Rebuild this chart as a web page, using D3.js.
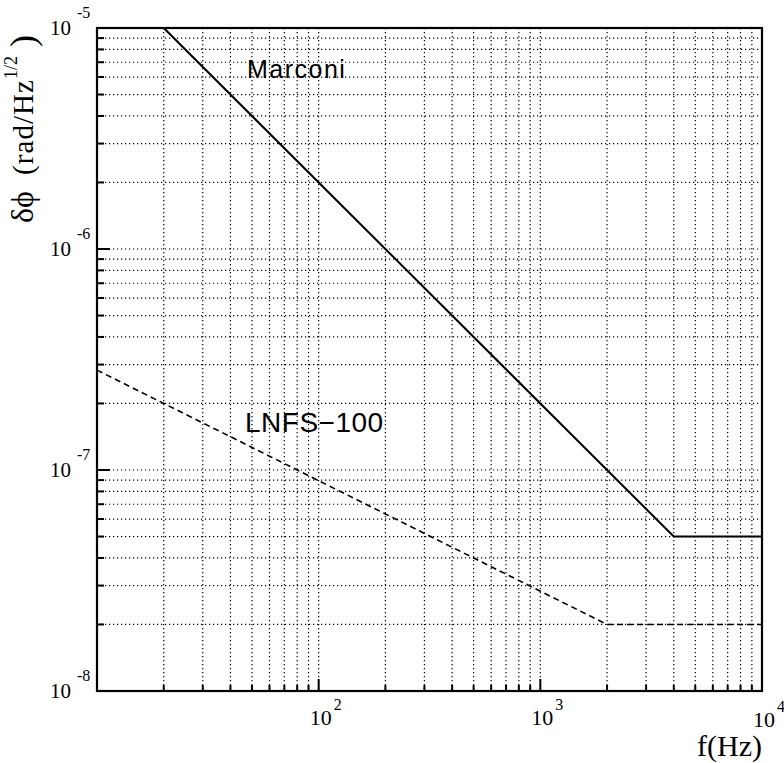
<!DOCTYPE html>
<html><head><meta charset="utf-8">
<script src="https://cdn.jsdelivr.net/npm/d3@7"></script>
<style>body{margin:0;background:#fff}svg{display:block}</style>
</head><body>
<svg id="c" width="784" height="763"></svg>
<script>
// ---- data ----
const xDomain = [10, 10000];
const yDomain = [1e-8, 1e-5];
const xMajorTicks = [100, 1000, 10000];
const xMajorExp = ["2", "3", "4"];
const yMajorTicks = [1e-8, 1e-7, 1e-6, 1e-5];
const yMajorExp = ["-8", "-7", "-6", "-5"];
const marconiF = [20, 4000, 10000];
const marconiV = [1e-5, 5e-8, 5e-8];
const lnfsF = [10, 2000, 10000];
const lnfsV = [2.83e-7, 2e-8, 2e-8];
const seriesNames = ["Marconi", "LNFS\u2212100"];
const xTitle = "f(Hz)";
const yTitleParts = ["\u03b4\u03d5", "(rad/Hz", "1/2", ")"];

// ---- layout ----
const L = 97, R = 762, T = 28, B = 691;
const svg = d3.select("#c");
const x = d3.scaleLog().domain(xDomain).range([L, R]);
const y = d3.scaleLog().domain(yDomain).range([B, T]);

function logGrid(dom) {
  const out = [];
  for (let e = Math.floor(Math.log10(dom[0])); e <= Math.ceil(Math.log10(dom[1])); e++) {
    for (let m = 1; m <= 9; m++) {
      const v = m * Math.pow(10, e);
      if (v > dom[0] * 1.0001 && v < dom[1] * 0.9999) out.push(v);
    }
  }
  return out;
}
const xGrid = logGrid(xDomain), yGrid = logGrid(yDomain);
const isMajor = v => Math.abs(Math.log10(v) - Math.round(Math.log10(v))) < 1e-6;

const g = svg.append("g");
g.selectAll(".vg").data(xGrid).enter().append("line")
  .attr("x1", d => x(d)).attr("x2", d => x(d)).attr("y1", T).attr("y2", B)
  .attr("stroke", "#000").attr("stroke-width", 1.2).attr("stroke-dasharray", "1.2 2.8");
g.selectAll(".hg").data(yGrid).enter().append("line")
  .attr("y1", d => y(d)).attr("y2", d => y(d)).attr("x1", L).attr("x2", R)
  .attr("stroke", "#000").attr("stroke-width", 1.2).attr("stroke-dasharray", "1.2 2.8");

// ticks (inward)
g.selectAll(".yt").data(yGrid).enter().append("line")
  .attr("x1", L).attr("x2", d => L + (isMajor(d) ? 13 : 7))
  .attr("y1", d => y(d)).attr("y2", d => y(d))
  .attr("stroke", "#000").attr("stroke-width", 2);
g.selectAll(".xt").data(xGrid).enter().append("line")
  .attr("y1", B).attr("y2", d => B - (isMajor(d) ? 12 : 6))
  .attr("x1", d => x(d)).attr("x2", d => x(d))
  .attr("stroke", "#000").attr("stroke-width", 2);

// curves
const line = d3.line().x(d => x(d[0])).y(d => y(d[1]));
svg.append("path").datum(marconiF.map((f, i) => [f, marconiV[i]]))
  .attr("d", line).attr("fill", "none").attr("stroke", "#000").attr("stroke-width", 2);
svg.append("path").datum(lnfsF.map((f, i) => [f, lnfsV[i]]))
  .attr("d", line).attr("fill", "none").attr("stroke", "#000").attr("stroke-width", 1.6)
  .attr("stroke-dasharray", "6 4");

// frame
svg.append("rect").attr("x", L).attr("y", T).attr("width", R - L).attr("height", B - T)
  .attr("fill", "none").attr("stroke", "#000").attr("stroke-width", 2.2);

// y tick labels
const serif = "'Liberation Serif','Times New Roman',serif";
yMajorTicks.forEach((v, i) => {
  svg.append("text").attr("x", 71).attr("y", y(v) + 7).attr("text-anchor", "end")
    .attr("font-family", serif).attr("font-size", 21).text("10");
  svg.append("text").attr("x", 77).attr("y", y(v) - 10)
    .attr("font-family", serif).attr("font-size", 16).text(yMajorExp[i]);
});
// x tick labels
xMajorTicks.forEach((v, i) => {
  const cx = x(v) + 2;
  const by = i === 2 ? 727 : 725;
  svg.append("text").attr("x", cx).attr("y", by).attr("text-anchor", "middle")
    .attr("font-family", serif).attr("font-size", 22).text("10");
  svg.append("text").attr("x", cx + 13).attr("y", by - 15)
    .attr("font-family", serif).attr("font-size", 16).text(xMajorExp[i]);
});

// axis titles
svg.append("text").attr("x", 762).attr("y", 756).attr("text-anchor", "end")
  .attr("font-family", serif).attr("font-size", 30).text(xTitle);

const yt = svg.append("g").attr("transform", "translate(33,225) rotate(-90)")
  .attr("font-family", serif);
yt.append("text").attr("x", 2).attr("y", 0).attr("font-size", 32).text(yTitleParts[0]);
yt.append("text").attr("x", 50).attr("y", 0).attr("font-size", 29)
  .attr("textLength", 95).attr("lengthAdjust", "spacing").text(yTitleParts[1]);
yt.append("text").attr("x", 146).attr("y", -16).attr("font-size", 18).text(yTitleParts[2]);
yt.append("text").attr("x", 178).attr("y", 2).attr("font-size", 36).text(yTitleParts[3]);

// series labels
const sans = "'Liberation Sans',Arial,Helvetica,sans-serif";
svg.append("text").attr("x", 247).attr("y", 78).attr("font-family", sans)
  .attr("font-size", 25).attr("letter-spacing", 1.5).text(seriesNames[0]);
svg.append("text").attr("x", 245).attr("y", 432).attr("font-family", sans)
  .attr("font-size", 28).attr("letter-spacing", 0.5).text(seriesNames[1]);
</script>
</body></html>
